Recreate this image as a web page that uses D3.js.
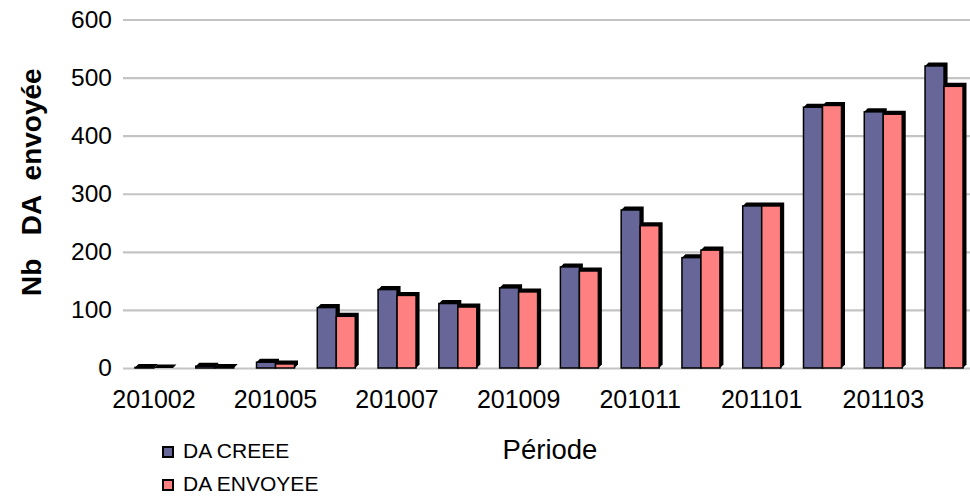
<!DOCTYPE html>
<html>
<head>
<meta charset="utf-8">
<script src="https://cdn.jsdelivr.net/npm/d3@7"></script>
<style>
  html, body { margin: 0; padding: 0; background: #fff; }
  svg { display: block; font-family: "Liberation Sans", Arial, sans-serif; }
</style>
</head>
<body>
<svg id="chart" width="970" height="496"></svg>
<script>
const categories = ["201002","201004","201005","201006","201007","201008","201009","201010","201011","201012","201101","201102","201103","201104"];
const daCreee   = [1, 3, 10, 104, 135, 111, 138, 174, 272, 190, 279, 449, 441, 520];
const daEnvoyee = [0, 1, 7, 89, 125, 105, 131, 167, 245, 203, 279, 452, 437, 485];
const seriesNames = ["DA CREEE", "DA ENVOYEE"];
const seriesColors = ["#666699", "#FF8080"];
const yTicks = [0, 100, 200, 300, 400, 500, 600];
const xTickLabels = ["201002","201005","201007","201009","201011","201101","201103"];

(function () {
const svg = d3.select("#chart");
const plotLeft = 123, plotRight = 975, gridRight = 970, plotBottom = 368, plotTop = 19.5;

const x = d3.scaleBand().domain(categories).range([plotLeft, plotRight]).paddingInner(0.375).paddingOuter(0.197);
const xs = d3.scaleBand().domain([0, 1]).range([0, x.bandwidth()]);
const y = d3.scaleLinear().domain([0, 600]).range([plotBottom, plotTop]);

// gridlines + y labels
const yAxis = svg.append("g").attr("transform", `translate(${plotLeft},0)`)
  .call(d3.axisLeft(y).tickValues(yTicks).tickSize(-(gridRight - plotLeft)).tickPadding(11).tickFormat(d3.format("d")));
yAxis.select(".domain").remove();
yAxis.selectAll(".tick line").attr("stroke", "#c4c4c4").attr("stroke-width", 2.2);
yAxis.selectAll(".tick text").attr("font-size", 24.5).attr("fill", "#000").attr("font-family", "Liberation Sans, Arial, sans-serif");

// x labels
const xAxis = svg.append("g").attr("transform", `translate(0,${plotBottom})`)
  .call(d3.axisBottom(x).tickValues(xTickLabels).tickSize(0).tickPadding(22));
xAxis.select(".domain").remove();
xAxis.selectAll(".tick text").attr("font-size", 25).attr("fill", "#000").attr("font-family", "Liberation Sans, Arial, sans-serif");

// bars with 3D extrusion
const dep = 3.5;
const rows = categories.map((c, i) => ({ c, vals: [daCreee[i], daEnvoyee[i]] }));
const groups = svg.append("g").selectAll("g").data(rows).join("g")
  .attr("transform", r => `translate(${x(r.c)},0)`);
groups.each(function(r) {
  const g = d3.select(this);
  r.vals.forEach((v, s) => {
    const x0 = xs(s), x1 = xs(s) + xs.bandwidth();
    const y0 = y(v), yb = y(0);
    g.append("polygon")
      .attr("points", [[x0, y0], [x0 + dep, y0 - dep], [x1 + dep, y0 - dep], [x1 + dep, yb - dep], [x1, yb]].map(p => p.join(",")).join(" "))
      .attr("fill", "#000");
    g.append("rect")
      .attr("x", x0).attr("y", y0)
      .attr("width", xs.bandwidth()).attr("height", yb - y0)
      .attr("fill", seriesColors[s]).attr("stroke", "#000").attr("stroke-width", 1.5);
  });
});

// axis titles
svg.append("text")
  .attr("x", 550).attr("y", 459).attr("text-anchor", "middle")
  .attr("font-size", 27.5).text("Période");

svg.append("text")
  .attr("transform", "translate(41,296) rotate(-90)")
  .attr("text-anchor", "start").attr("font-size", 28).attr("font-weight", "bold")
  .style("white-space", "pre")
  .text("Nb   DA  envoyée");

// legend
const legend = svg.append("g").selectAll("g").data(seriesNames).join("g")
  .attr("transform", (n, i) => `translate(163,${447 + i * 33})`);
legend.append("rect").attr("x", 0).attr("y", 0).attr("width", 10).attr("height", 10)
  .attr("fill", (n, i) => seriesColors[i]).attr("stroke", "#000").attr("stroke-width", 2);
legend.append("text").attr("x", 20).attr("y", 11).attr("font-size", 21).text(n => n);
})();
</script>
</body>
</html>
